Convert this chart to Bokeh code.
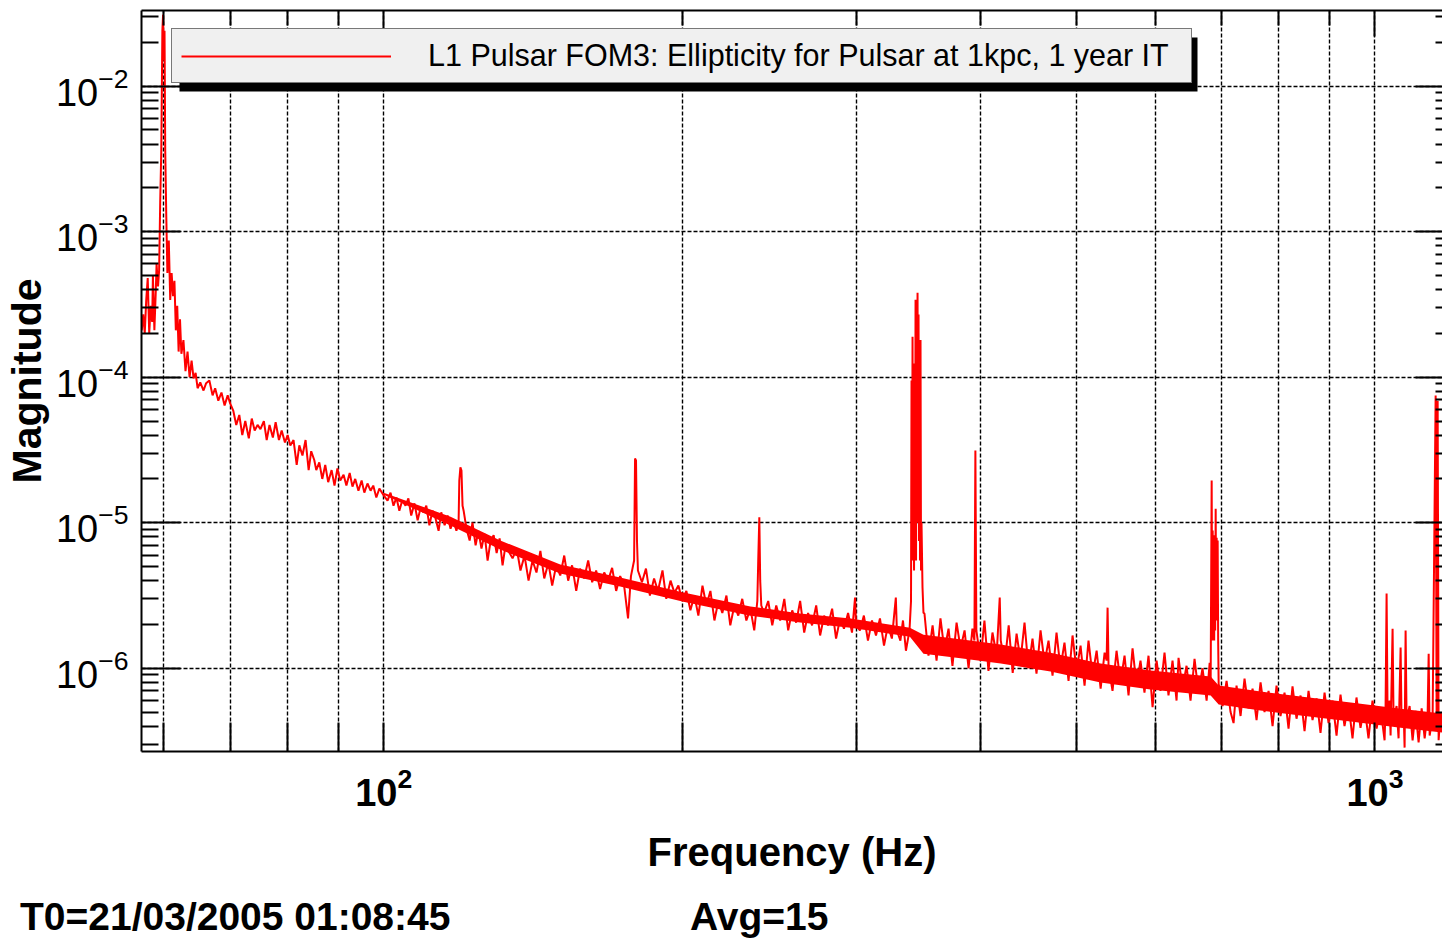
from bokeh.plotting import figure
from bokeh.layouts import column
from bokeh.models import (Range1d, FixedTicker, LogAxis, Legend, LegendItem, BoxAnnotation, Div)
from bokeh.embed import file_html
from bokeh.resources import INLINE

# ---------------- data ----------------
# 57-100 Hz: 60 Hz power line peak and the steep low-frequency wall
low_freq = [57.0, 57.2, 57.4, 57.6, 57.8, 58.0, 58.2, 58.4, 58.5, 58.7, 58.9, 59.0, 59.2, 59.35,
            59.5, 59.65, 59.8, 59.9, 60.0, 60.1, 60.2, 60.35, 60.5, 60.7, 60.9, 61.1, 61.3, 61.5,
            61.7, 61.9, 62.1, 62.3, 62.5, 62.8, 63.1, 63.4, 63.7, 64.0, 64.3, 64.6,
            64.9, 65.3, 65.8, 66.2, 66.7, 67.2, 67.6, 68.1, 68.6, 69.1, 69.6, 70.0, 70.5, 71.0,
            71.5, 72.0, 72.5, 73.1, 73.6, 74.1, 74.6, 75.1, 75.7, 76.2, 76.7, 77.3, 77.8, 78.4,
            78.9, 79.5, 80.0, 80.5, 81.1, 81.7, 82.2, 82.8, 83.4, 84.0, 84.5, 85.1, 85.5, 86.1,
            86.7, 87.3, 87.9, 88.6, 89.2, 89.8, 90.4, 91.1, 91.7, 92.4, 93.0, 93.6, 94.3, 95.0,
            95.6, 96.3, 97.0, 97.6, 98.3, 99.0, 100.0]
low_mag = [2.1e-4, 2.7e-4, 2.0e-4, 3.4e-4, 4.8e-4, 2.0e-4, 3.1e-4, 2.4e-4, 5.0e-4, 2.1e-4, 4.0e-4,
           6.0e-4, 4.2e-4, 5.4e-4, 1.6e-3, 3.6e-3, 2.4e-2, 3.1e-2, 1.5e-2, 2.4e-2, 3.6e-3, 1.25e-3,
           5.2e-4, 8.7e-4, 3.4e-4, 5.2e-4, 3.6e-4, 4.6e-4, 2.1e-4, 3.1e-4, 1.5e-4, 2.5e-4, 1.45e-4,
           1.8e-4, 1.1e-4, 1.5e-4, 1.0e-4, 1.3e-4, 9.8e-5, 1.07e-4,
           8.4e-5, 9.2e-5, 8.1e-5, 9.1e-5, 9.5e-5, 7.5e-5, 8.4e-5, 6.9e-5, 7.85e-5, 6.4e-5, 7.5e-5,
           6.6e-5, 5.9e-5, 4.7e-5, 5.5e-5, 4.0e-5, 5.0e-5, 3.8e-5, 5.2e-5, 4.3e-5, 4.7e-5, 4.4e-5,
           5.0e-5, 3.7e-5, 4.7e-5, 3.85e-5, 4.9e-5, 3.7e-5, 4.3e-5, 3.56e-5, 4.0e-5, 3.4e-5, 3.7e-5,
           2.5e-5, 3.4e-5, 2.9e-5, 3.7e-5, 2.3e-5, 3.1e-5, 2.7e-5, 2.3e-5, 2.6e-5, 2.0e-5, 2.5e-5,
           1.9e-5, 2.3e-5, 1.8e-5, 2.36e-5, 1.95e-5, 2.14e-5, 1.8e-5, 2.2e-5, 1.77e-5, 2.0e-5,
           1.66e-5, 1.95e-5, 1.61e-5, 1.86e-5, 1.66e-5, 1.8e-5, 1.49e-5, 1.72e-5, 1.54e-5]

# 100-340 Hz: 120 / 180 / 240 / 300 Hz harmonics on the falling floor
mid_freq = [100.9, 101.6, 102.3, 103.0, 103.7, 104.4, 105.2, 105.9, 106.6, 107.4,
            108.2, 108.9, 109.7, 110.4, 111.2, 112.0, 112.8, 113.6, 114.3, 115.2,
            116.0, 116.8, 117.6, 118.4, 119.0, 119.2, 119.5, 119.8, 120.1, 120.4,
            121.2, 122.1, 122.9, 123.8, 124.6, 125.5, 126.4, 127.3, 128.2, 129.1,
            130.0, 130.9, 131.8, 132.7, 133.6, 134.9, 136.2, 137.4, 138.7, 140.0,
            141.3, 142.6, 143.9, 145.2, 146.6, 147.9, 149.3, 150.7, 152.1, 153.5,
            154.9, 156.4, 157.8, 159.3, 160.8, 162.3, 163.8, 165.3, 166.9, 168.4,
            170.0, 171.6, 173.2, 174.8, 176.4, 177.6, 178.9, 179.3, 179.7, 180.1,
            180.5, 182.2, 183.9, 185.6, 187.4, 189.1, 191.1, 192.8, 194.7, 196.5,
            198.3, 200.1, 202.0, 203.9, 205.8, 207.7, 209.7, 211.6, 213.6, 215.6,
            217.6, 219.6, 221.7, 223.7, 225.8, 227.9, 230.0, 232.2, 234.4, 236.5,
            238.2, 238.7, 239.3, 239.8, 240.4, 242.0, 244.3, 246.6, 248.9, 251.2,
            253.6, 255.9, 258.3, 260.7, 263.1, 265.6, 268.0, 270.5, 273.1, 275.6,
            278.2, 280.7, 283.4, 286.0, 288.7, 291.3, 294.1, 296.8, 298.9, 299.6,
            302.3, 305.1, 308.0, 310.9, 313.8, 316.7, 319.7, 322.6, 325.6, 328.6,
            329.4, 332.1, 334.1, 336.4, 339.2]
mid_mag = [1.42e-5, 1.61e-5, 1.31e-5, 1.49e-5, 1.21e-5, 1.42e-5, 1.31e-5, 1.47e-5, 1.12e-5, 1.36e-5,
           1.04e-5, 1.25e-5, 1.18e-5, 1.31e-5, 9.6e-6, 1.21e-5, 1.07e-5, 8.8e-6, 1.18e-5, 9.6e-6,
           1.12e-5, 9.1e-6, 1.04e-5, 8.8e-6, 1.0e-5, 1.95e-5, 2.4e-5, 2.28e-5, 1.31e-5, 1.21e-5,
           9.1e-6, 7.55e-6, 1.0e-5, 7.0e-6, 8.8e-6, 6.65e-6, 8.4e-6, 5.5e-6, 7.55e-6, 8.2e-6,
           6.2e-6, 7.8e-6, 5.1e-6, 7.0e-6, 6.4e-6, 5.7e-6, 6.65e-6, 4.7e-6, 5.95e-6, 4.0e-6,
           5.5e-6, 4.55e-6, 6.4e-6, 4.14e-6, 5.3e-6, 3.7e-6, 5.1e-6, 4.34e-6, 5.95e-6, 4.0e-6,
           5.1e-6, 3.4e-6, 4.84e-6, 4.14e-6, 5.5e-6, 3.9e-6, 4.7e-6, 3.5e-6, 4.55e-6, 4.0e-6,
           4.9e-6, 3.4e-6, 4.3e-6, 3.7e-6, 2.2e-6, 4.3e-6, 5.5e-6, 2.76e-5, 2.68e-5, 7.55e-6,
           4.7e-6, 3.9e-6, 4.84e-6, 3.16e-6, 4.14e-6, 3.4e-6, 4.7e-6, 3.0e-6, 4.0e-6, 3.3e-6,
           3.7e-6, 2.9e-6, 3.4e-6, 2.5e-6, 3.16e-6, 2.3e-6, 3.7e-6, 2.7e-6, 3.4e-6, 2.13e-6,
           2.9e-6, 2.4e-6, 3.16e-6, 1.97e-6, 2.7e-6, 2.3e-6, 3.0e-6, 2.13e-6, 2.57e-6, 1.82e-6,
           2.9e-6, 5.5e-6, 1.09e-5, 4.0e-6, 2.7e-6, 2.4e-6, 2.9e-6, 1.97e-6, 2.7e-6, 2.13e-6,
           3.0e-6, 1.82e-6, 2.5e-6, 2.06e-6, 2.9e-6, 1.76e-6, 2.4e-6, 1.97e-6, 2.7e-6, 1.68e-6,
           2.3e-6, 1.97e-6, 2.57e-6, 1.6e-6, 2.2e-6, 1.87e-6, 2.4e-6, 1.76e-6, 3.06e-6, 1.97e-6,
           1.82e-6, 2.3e-6, 1.55e-6, 2.13e-6, 1.68e-6, 2.2e-6, 1.43e-6, 1.97e-6, 1.6e-6, 3.06e-6,
           1.82e-6, 1.55e-6, 2.13e-6, 1.32e-6, 1.82e-6]

# 340-350 Hz: violin-mode cluster
violin_freq = [340.4, 340.8, 341.2, 341.6, 342.0, 342.4, 342.8, 343.2, 343.6, 344.0, 344.4, 344.8,
               345.2, 345.6, 346.0, 346.4, 346.8, 347.2, 347.6, 348.0, 348.4, 348.8, 349.6, 350.4]
violin_mag = [2.9e-6, 9.5e-5, 5.5e-6, 1.9e-4, 6.4e-6, 5.0e-5, 4.7e-6, 1.24e-4, 7.5e-6, 3.4e-4,
              5.5e-6, 1.5e-4, 1.0e-5, 3.8e-4, 2.0e-5, 2.7e-4, 7.5e-6, 9.5e-5, 5.5e-6, 1.8e-4,
              4.7e-6, 1.0e-5, 3.6e-6, 2.4e-6]

# 350-1170 Hz: dense floor with calibration / violin harmonic lines
high_freq = [351.2, 354.5, 357.9, 361.2, 364.5, 367.9, 371.4, 374.8, 378.4, 381.9,
             385.5, 389.1, 392.6, 394.4, 395.3, 396.2, 400.0, 403.7, 407.5, 411.3,
             415.3, 418.3, 419.3, 423.2, 427.1, 431.1, 435.0, 439.0, 443.1, 447.2,
             451.4, 455.6, 459.9, 464.2, 468.5, 472.9, 477.3, 481.7, 486.2, 490.8,
             495.4, 500.0, 504.7, 509.4, 514.1, 518.9, 523.9, 528.8, 533.7, 536.2,
             537.4, 538.6, 543.6, 548.7, 553.8, 559.0, 564.2, 569.5, 574.8, 580.1,
             585.5, 591.0, 596.6, 602.2, 607.7, 613.4, 619.1, 624.9, 630.8, 633.7,
             639.6, 645.6, 651.6, 657.7, 663.8, 670.0, 676.4, 681.2, 682.8, 684.4,
             685.2, 686.0, 686.8, 687.6, 688.4, 689.2, 690.0, 690.8, 691.6, 692.4,
             693.2, 694.0, 694.8, 695.6, 702.0, 708.5, 715.1, 720.1, 725.1, 731.9,
             738.7, 745.6, 752.6, 759.6, 766.7, 773.8, 781.1, 788.4, 795.7, 803.1,
             810.6, 818.2, 825.8, 833.5, 841.4, 849.2, 857.1, 865.1, 873.2, 881.3,
             889.6, 897.9, 906.2, 914.7, 923.2, 931.8, 940.5, 949.3, 958.1, 967.1,
             976.1, 985.2, 994.4, 1003.9, 1013.3, 1022.7, 1025.1, 1027.5, 1029.9, 1034.7,
             1037.1, 1041.9, 1044.3, 1051.6, 1056.5, 1061.5, 1064.0, 1068.9, 1071.4, 1073.9,
             1076.4, 1083.9, 1091.5, 1099.1, 1106.8, 1114.7, 1122.5, 1130.4, 1133.0, 1135.6,
             1143.5, 1151.5, 1154.2, 1156.9, 1159.5, 1164.9, 1170.2]
high_mag = [2.38e-6, 1.22e-6, 1.97e-6, 1.13e-6, 2.2e-6, 1.32e-6, 1.87e-6, 1.04e-6, 2.06e-6, 1.37e-6,
            1.82e-6, 1.0e-6, 1.87e-6, 1.55e-6, 3.13e-5, 1.82e-6, 1.13e-6, 2.13e-6, 9.6e-7, 1.76e-6,
            1.22e-6, 3.06e-6, 1.55e-6, 1.09e-6, 1.97e-6, 9.3e-7, 1.73e-6, 1.13e-6, 2.06e-6, 1.0e-6,
            1.6e-6, 9.2e-7, 1.82e-6, 1.09e-6, 1.55e-6, 8.9e-7, 1.76e-6, 1.0e-6, 1.5e-6, 8.2e-7,
            1.68e-6, 9.6e-7, 1.43e-6, 7.6e-7, 1.55e-6, 8.9e-7, 1.32e-6, 7.25e-7, 1.28e-6, 1.13e-6,
            2.61e-6, 1.04e-6, 7.0e-7, 1.32e-6, 8.0e-7, 1.22e-6, 6.5e-7, 1.37e-6, 7.6e-7, 1.13e-6,
            6.8e-7, 1.22e-6, 5.4e-7, 1.13e-6, 7.0e-7, 1.28e-6, 6.5e-7, 1.13e-6, 6.0e-7, 1.18e-6,
            7.25e-7, 1.04e-6, 6.0e-7, 1.16e-6, 6.8e-7, 1.0e-6, 6.0e-7, 1.09e-6, 8.2e-7, 1.95e-5,
            1.55e-6, 8.84e-6, 2.13e-6, 7.55e-6, 1.55e-6, 8.2e-6, 1.82e-6, 1.25e-5, 2.13e-6, 7.9e-6,
            2.92e-6, 7.55e-6, 1.55e-6, 7.8e-7, 5.5e-7, 8.2e-7, 5.0e-7, 4.2e-7, 7.6e-7, 4.7e-7,
            8.5e-7, 5.3e-7, 7.25e-7, 4.4e-7, 8.0e-7, 5.0e-7, 7.0e-7, 4.0e-7, 7.6e-7, 4.7e-7,
            6.8e-7, 3.85e-7, 7.5e-7, 4.5e-7, 6.5e-7, 3.7e-7, 7.0e-7, 4.4e-7, 6.2e-7, 3.6e-7,
            6.8e-7, 4.2e-7, 6.0e-7, 3.45e-7, 6.6e-7, 4.0e-7, 5.7e-7, 3.3e-7, 6.3e-7, 3.9e-7,
            5.5e-7, 3.3e-7, 6.0e-7, 3.85e-7, 5.3e-7, 3.2e-7, 5.5e-7, 3.26e-6, 4.7e-7, 6.0e-7,
            3.45e-7, 1.87e-6, 4.4e-7, 5.5e-7, 3.3e-7, 1.39e-6, 4.0e-7, 5.1e-7, 2.85e-7, 1.82e-6,
            4.4e-7, 5.5e-7, 3.2e-7, 5.1e-7, 3.1e-7, 5.3e-7, 3.3e-7, 5.0e-7, 1.26e-6, 3.45e-7,
            4.7e-7, 7.5e-5, 4.0e-7, 6.9e-5, 3.2e-7, 5.0e-7, 3.7e-7]

# dense noise floor (upper / lower edge of the solid core of the red band)
band_freq = [100.0, 116.8, 131.1, 150.7, 173.2, 200.6, 234.4, 263.1, 295.8, 339.5, 350.4, 381.9,
             419.3, 470.7, 528.8, 593.8, 682.8, 695.6, 766.7, 841.4, 945.2, 1061.5, 1170.2]
band_upper = [1.61e-5, 1.10e-5, 7.55e-6, 5.16e-6, 4.2e-6, 3.31e-6, 2.66e-6, 2.38e-6, 2.2e-6, 1.9e-6,
              1.70e-6, 1.58e-6, 1.455e-6, 1.28e-6, 1.08e-6, 9.64e-7, 8.77e-7, 7.6e-7, 6.92e-7,
              6.39e-7, 5.81e-7, 5.28e-7, 4.88e-7]
band_lower = [1.56e-5, 9.57e-6, 6.54e-6, 4.48e-6, 3.64e-6, 2.87e-6, 2.30e-6, 2.06e-6, 1.90e-6, 1.65e-6,
              1.26e-6, 1.17e-6, 1.08e-6, 9.5e-7, 7.97e-7, 7.14e-7, 6.49e-7, 5.63e-7, 5.12e-7, 4.73e-7,
              4.3e-7, 3.91e-7, 3.61e-7]

legend_text = "L1 Pulsar FOM3: Ellipticity for Pulsar at 1kpc, 1 year IT"
x_title = "Frequency (Hz)"
y_title = "Magnitude"
footer_time = "T0=21/03/2005 01:08:45"
footer_avg = "Avg=15"

x_major = [100, 1000]
x_minor = [60, 70, 80, 90, 200, 300, 400, 500, 600, 700, 800, 900]
y_major = [1e-6, 1e-5, 1e-4, 1e-3, 1e-2]
y_minor = [k * 10.0 ** e for e in range(-7, -1) for k in range(2, 10)]

trace_freq = low_freq + mid_freq + violin_freq + high_freq
trace_mag = low_mag + mid_mag + violin_mag + high_mag

FONT = "Liberation Sans"
RED = "#ff0000"

# ---------------- figure ----------------
p = figure(width=1442, height=895, x_axis_type="log", y_axis_type="log",
           x_range=Range1d(56.97, 1170.0), y_range=Range1d(2.68e-7, 3.31e-2),
           output_backend="svg", toolbar_location=None,
           min_border_left=141, min_border_right=0, min_border_top=10, min_border_bottom=144)
p.outline_line_color = None
p.background_fill_color = "white"
p.border_fill_color = "white"

xt = FixedTicker(ticks=x_major, minor_ticks=x_minor)
yt = FixedTicker(ticks=y_major, minor_ticks=y_minor)

xa = p.xaxis[0]
xa.ticker = xt
xa.axis_line_width = 2
xa.major_tick_in = 29
xa.major_tick_out = 0
xa.minor_tick_in = 29
xa.minor_tick_out = 0
xa.major_tick_line_width = 2
xa.minor_tick_line_width = 2
xa.major_label_text_font = FONT
xa.major_label_text_font_size = "38px"
xa.major_label_text_font_style = "bold"
xa.major_label_text_color = "black"
xa.major_label_standoff = 15
xa.axis_label = x_title
xa.axis_label_text_font = FONT
xa.axis_label_text_font_size = "40px"
xa.axis_label_text_font_style = "bold"
xa.axis_label_text_color = "black"
xa.axis_label_standoff = 21

ya = p.yaxis[0]
ya.ticker = yt
ya.axis_line_width = 2
ya.major_tick_in = 39
ya.major_tick_out = 0
ya.minor_tick_in = 17
ya.minor_tick_out = 0
ya.major_tick_line_width = 2
ya.minor_tick_line_width = 2
ya.major_label_text_font = FONT
ya.major_label_text_font_size = "38px"
ya.major_label_text_color = "black"
ya.major_label_standoff = 13
ya.axis_label = y_title
ya.axis_label_text_font = FONT
ya.axis_label_text_font_size = "41px"
ya.axis_label_text_font_style = "bold"
ya.axis_label_text_color = "black"
ya.axis_label_standoff = 3

top = LogAxis(ticker=xt, axis_line_width=2, major_tick_in=26, major_tick_out=0,
              minor_tick_in=15, minor_tick_out=0, major_tick_line_width=2,
              minor_tick_line_width=2, major_label_text_font_size="1px",
              major_label_text_alpha=0, major_label_standoff=0)
p.add_layout(top, "above")
right = LogAxis(ticker=yt, axis_line_color=None, major_tick_in=27, major_tick_out=0,
                minor_tick_in=7, minor_tick_out=0, major_tick_line_width=2,
                minor_tick_line_width=2, major_label_text_font_size="1px",
                major_label_text_alpha=0, major_label_standoff=0)
p.add_layout(right, "right")

for g in (p.xgrid[0], p.ygrid[0]):
    g.grid_line_color = "black"
    g.grid_line_dash = "4 2"
    g.grid_line_width = 1.4
p.xgrid[0].minor_grid_line_color = "black"
p.xgrid[0].minor_grid_line_dash = "4 2"
p.xgrid[0].minor_grid_line_width = 1.4

# ---------------- spectrum ----------------
p.varea(x=band_freq, y1=band_lower, y2=band_upper, fill_color=RED, fill_alpha=1.0)
line_r = p.line(trace_freq, trace_mag, line_color=RED, line_width=2.0, line_join="bevel")

# ---------------- legend with drop shadow ----------------
shadow = BoxAnnotation(left=38, right=1056, top=714, bottom=660,
                       left_units="screen", right_units="screen",
                       top_units="screen", bottom_units="screen",
                       fill_color="black", fill_alpha=1.0, line_color=None)
p.add_layout(shadow)
legend = Legend(items=[LegendItem(label=legend_text, renderers=[line_r])],
                location=(30, 668), padding=9, margin=0, glyph_width=210, glyph_height=20,
                label_standoff=37, label_width=754, label_text_font=FONT,
                label_text_font_size="30.5px", label_text_color="black",
                background_fill_color="#f0f0f0", background_fill_alpha=1.0,
                border_line_color="black", border_line_width=1.5)
p.add_layout(legend)

# ---------------- footer line (run info) ----------------
span_css = "position:absolute;top:2px;white-space:nowrap;"
footer_html = (
    "<div style=\"position:relative;width:1442px;height:44px;"
    "font-family:'Liberation Sans',Arial,sans-serif;font-weight:bold;font-size:39px;"
    "line-height:39px;color:#000;\">"
    f"<span style=\"{span_css}left:20px;\">{footer_time}</span>"
    f"<span style=\"{span_css}left:690px;\">{footer_avg}</span>"
    "</div>"
)
footer = Div(text=footer_html, width=1442, height=44, margin=0)

layout = column(p, footer, spacing=0)
open("out.html", "w").write(file_html(layout, INLINE))
